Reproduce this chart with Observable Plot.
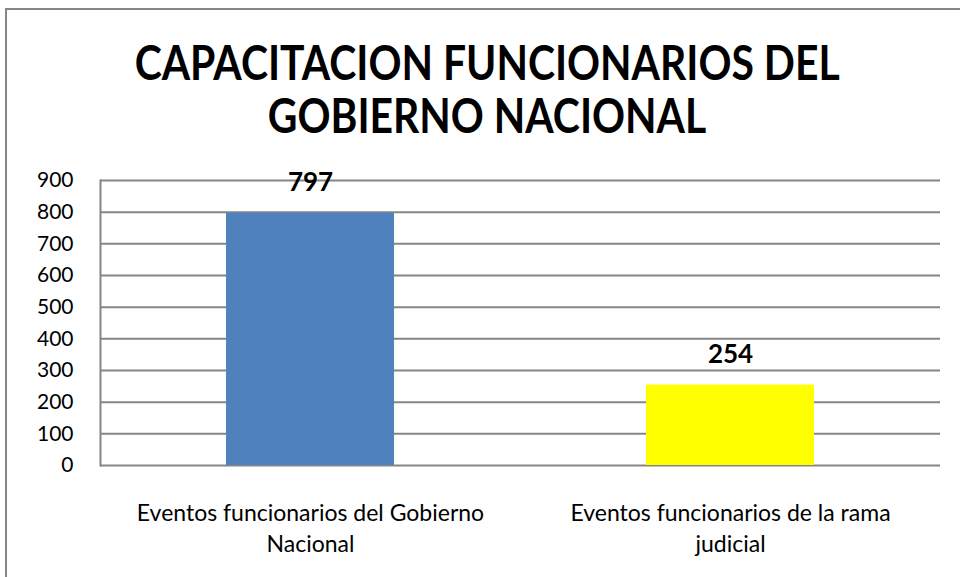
<!DOCTYPE html>
<html>
<head>
<meta charset="utf-8">
<script src="https://cdn.jsdelivr.net/npm/d3@7"></script>
<script src="https://cdn.jsdelivr.net/npm/@observablehq/plot@0.6"></script>
<style>
  html, body { margin: 0; padding: 0; background: #fff; }
  #wrap { position: relative; width: 960px; height: 577px; overflow: hidden; font-family: Lato, "Open Sans", sans-serif; }
  #frame { position: absolute; left: 5px; top: 8px; width: 1000px; height: 600px; border-top: 2px solid #868686; border-left: 2px solid #868686; box-sizing: border-box; }
  #title { position: absolute; left: 0; top: 36px; width: 974px; text-align: center; font-weight: 700; font-size: 47px; line-height: 53px; color: #000; }
  #title span { display: inline-block; transform: scaleX(0.87); transform-origin: center; white-space: nowrap; }
  #chart { position: absolute; left: 0; top: 0; }
</style>
</head>
<body>
<div id="wrap">
  <div id="frame"></div>
  <div id="chart"></div>
  <div id="title"><span>CAPACITACION FUNCIONARIOS DEL</span><br><span>GOBIERNO NACIONAL</span></div>
</div>
<script>
const categories = ["Eventos funcionarios del Gobierno Nacional", "Eventos funcionarios de la rama judicial"];
const tickLabels = ["Eventos funcionarios del Gobierno\nNacional", "Eventos funcionarios de la rama\njudicial"];
const values = [797, 254];
const colors = ["#4F81BD", "#FFFF00"];
const yTicks = [0, 100, 200, 300, 400, 500, 600, 700, 800, 900];

const data = categories.map((c, i) => ({cat: c, value: values[i], color: colors[i], label: tickLabels[i]}));

const chart = Plot.plot({
  width: 960,
  height: 577,
  marginTop: 180,
  marginBottom: 112,
  marginLeft: 100,
  marginRight: 20,
  style: {background: "transparent", fontFamily: "Lato, 'Open Sans', sans-serif", color: "#000"},
  x: {domain: categories, paddingInner: 0.6, paddingOuter: 0.3, axis: null},
  y: {domain: [0, 900], axis: null},
  color: {type: "identity"},
  marks: [
    Plot.gridY(yTicks, {stroke: "#868686", strokeOpacity: 1, strokeWidth: 2}),
    Plot.barY(data, {x: "cat", y: "value", fill: "color"}),
    Plot.frame({anchor: "left", stroke: "#868686", strokeWidth: 2}),
    Plot.axisY(yTicks, {tickSize: 0, tickPadding: 27, fontSize: 21, fill: "#000", label: null}),
    Plot.axisX({tickSize: 0, tickPadding: 33, fontSize: 23, lineHeight: 1.37, fill: "#000", label: null,
                tickFormat: d => tickLabels[categories.indexOf(d)]}),
    Plot.text(data, {x: "cat", y: "value", text: d => String(d.value), dy: -30, fontWeight: "bold", fontSize: 26, fill: "#000"})
  ]
});
document.getElementById("chart").appendChild(chart);
</script>
</body>
</html>
